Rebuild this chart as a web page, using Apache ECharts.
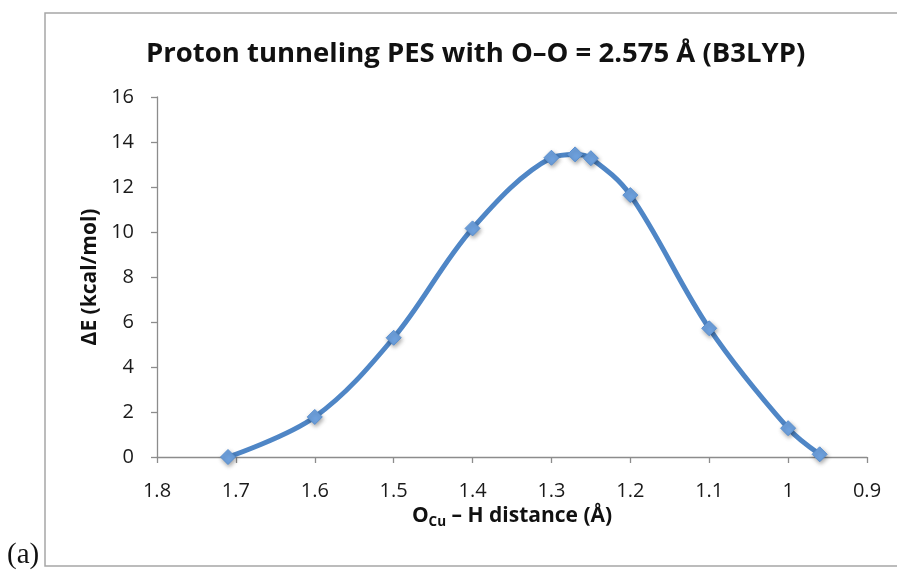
<!DOCTYPE html>
<html>
<head>
<meta charset="utf-8">
<script src="https://cdn.jsdelivr.net/npm/echarts@6/dist/echarts.min.js"></script>
<style>
  html, body { margin: 0; padding: 0; background: #fff; }
  #chart { width: 897px; height: 573px; }
</style>
</head>
<body>
<div id="chart"></div>
<script>
// O(Cu)–H distance (Å) and relative energy ΔE (kcal/mol), B3LYP scan
const distances = [1.71, 1.6, 1.5, 1.4, 1.3, 1.27, 1.25, 1.2, 1.1, 1.0, 0.96];
const energies  = [0.0, 1.78, 5.3, 10.16, 13.3, 13.45, 13.28, 11.64, 5.72, 1.28, 0.12];

const xTicks = { min: 0.9, max: 1.8, step: 0.1 };
const yTicks = { min: 0, max: 16, step: 2 };

const titleText = 'Proton tunneling PES with O\u2013O = 2.575 \u00C5 (B3LYP)';
const panelLabel = '(a)';

const points = distances.map((d, i) => [d, energies[i]]);

const axisGray = '#8c8c8c';
const labelFont = { fontFamily: 'Open Sans', fontSize: 20, color: '#1a1a1a' };

const chart = echarts.init(document.getElementById('chart'), null, { renderer: 'canvas' });

chart.setOption({
  animation: false,
  backgroundColor: '#ffffff',
  title: {
    text: titleText,
    left: 141,
    top: 35,
    textStyle: { fontFamily: 'Open Sans', fontWeight: 'bold', fontSize: 27.5, color: '#111' }
  },
  grid: { left: 157, right: 30, top: 97, bottom: 116, containLabel: false },
  xAxis: {
    type: 'value',
    inverse: true,
    min: xTicks.min,
    max: xTicks.max,
    interval: xTicks.step,
    name: '{b|O}{sub|Cu}{b| \u2013 H distance (\u00C5)}',
    nameLocation: 'middle',
    nameGap: 46,
    nameTextStyle: {
      rich: {
        b: { fontFamily: 'Open Sans', fontWeight: 'bold', fontSize: 21, color: '#111' },
        sub: { fontFamily: 'Open Sans', fontWeight: 'bold', fontSize: 13.5, color: '#111', padding: [12, 0, 0, 0] }
      }
    },
    axisLine: { show: true, lineStyle: { color: axisGray, width: 1.3 } },
    axisTick: { show: true, inside: false, length: 6, lineStyle: { color: axisGray, width: 1.3 } },
    axisLabel: Object.assign({ margin: 24 }, labelFont),
    splitLine: { show: false }
  },
  yAxis: {
    type: 'value',
    min: yTicks.min,
    max: yTicks.max,
    interval: yTicks.step,
    name: '\u0394E (kcal/mol)',
    nameLocation: 'middle',
    nameGap: 50,
    nameRotate: 90,
    nameTextStyle: { fontFamily: 'Open Sans', fontWeight: 'bold', fontSize: 21, color: '#111' },
    axisLine: { show: true, lineStyle: { color: axisGray, width: 1.3 } },
    axisTick: { show: true, inside: false, length: 6, lineStyle: { color: axisGray, width: 1.3 } },
    axisLabel: Object.assign({ margin: 23 }, labelFont),
    splitLine: { show: false }
  },
  series: [{
    type: 'line',
    data: points,
    smooth: 0.35,
    symbol: 'diamond',
    symbolSize: 15,
    lineStyle: { color: '#4f86c6', width: 5 },
    itemStyle: {
      color: '#6ea1de',
      borderColor: '#5a90d0',
      borderWidth: 1,
      shadowColor: 'rgba(0,0,0,0.35)',
      shadowBlur: 4,
      shadowOffsetX: 1,
      shadowOffsetY: 2
    },
    z: 3
  }],
  graphic: [
    {
      type: 'polyline',
      shape: { points: [[900, 13], [45, 13], [45, 566], [900, 566]] },
      style: { stroke: '#a6a6a6', lineWidth: 1.5, fill: null },
      silent: true
    },
    {
      type: 'text',
      left: 7,
      top: 541,
      style: { text: panelLabel, font: '29px "Liberation Serif"', fill: '#111' },
      silent: true
    }
  ]
});
</script>
</body>
</html>
